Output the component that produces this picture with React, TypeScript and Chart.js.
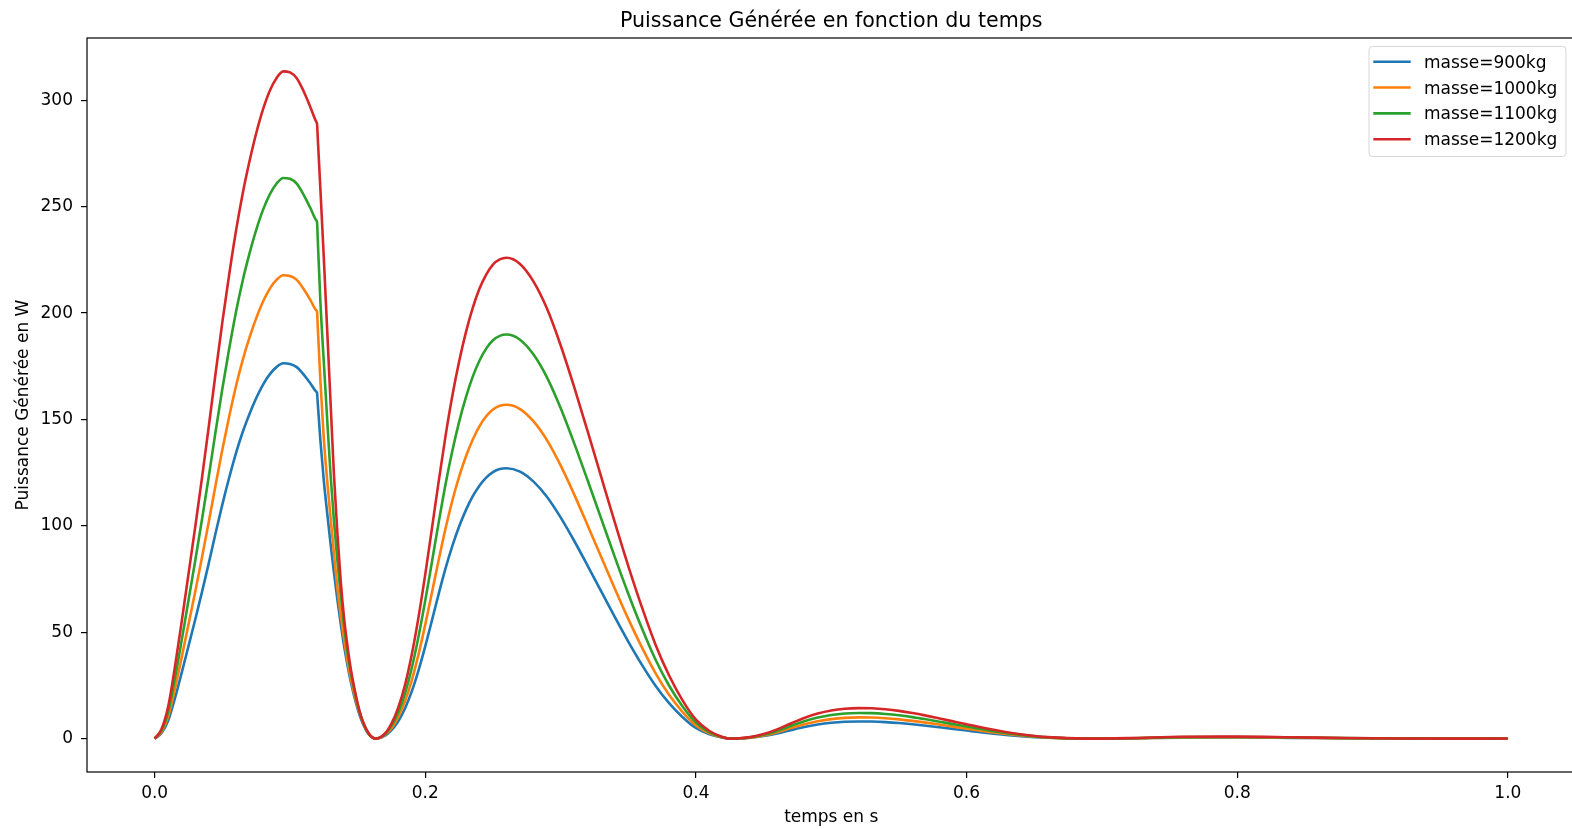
import { useEffect, useRef } from "react";
import { Chart, registerables } from "chart.js";

Chart.register(...registerables);

const times = [
  0, 0.005, 0.01, 0.015, 0.02, 0.025, 0.03, 0.035, 0.04, 0.045, 0.05, 0.055, 0.06, 0.065, 0.07, 0.075, 0.08, 0.085, 0.09, 0.095, 0.1, 0.105, 0.11, 0.115, 0.1195, 0.12,
  0.1205, 0.1225, 0.125, 0.1275, 0.13, 0.1325, 0.135, 0.1375, 0.14, 0.1425, 0.145, 0.1475, 0.15, 0.1525, 0.155, 0.1575, 0.16, 0.1632,
  0.17, 0.175, 0.18, 0.185, 0.19, 0.195, 0.2, 0.205, 0.21, 0.215, 0.22, 0.225, 0.23, 0.235, 0.24, 0.245, 0.25, 0.255, 0.26,
  0.27, 0.28, 0.29, 0.3, 0.31, 0.32, 0.33, 0.34, 0.35, 0.36, 0.37, 0.38, 0.39, 0.4, 0.41, 0.42, 0.4254,
  0.43, 0.44, 0.45, 0.46, 0.47, 0.48, 0.49, 0.5, 0.51, 0.52, 0.53, 0.54, 0.55, 0.56, 0.57, 0.58, 0.59, 0.6, 0.62, 0.64, 0.66, 0.688,
  0.72, 0.76, 0.8, 0.84, 0.88, 0.92, 0.96, 1.0,
];

const masse900 = [
  0, 2.5, 8.5, 19, 31, 43.5, 56, 69, 82.5, 96.5, 110, 122.5, 134, 144, 152.5, 160, 166.3, 171.2, 174.6, 176.4, 176.1, 174.6, 171.2, 167, 163.0, 162.5,
  158, 140, 121.3, 106, 91.5, 78, 65.5, 54, 43.5, 34.5, 26.5, 19.8, 14, 9.2, 5.5, 2.7, 0.9, 0,
  1.3, 4.0, 8.2, 14.2, 22.2, 32.1, 43.5, 55.8, 68.3, 80.1, 90.6, 99.7, 107.4, 113.8, 118.9, 122.7, 125.3, 126.7, 127.1,
  125.5, 120.8, 113.6, 104.0, 93.0, 81.2, 69.2, 57.2, 45.6, 34.8, 25.0, 16.8, 10.2, 5.0, 2.0, 0.4, 0,
  0.04, 0.4, 1.2, 2.44, 4.0, 5.48, 6.62, 7.43, 7.91, 8.08, 8.02, 7.76, 7.34, 6.76, 6.08, 5.34, 4.57, 3.81, 2.37, 1.18, 0.39, 0,
  0.14, 0.49, 0.53, 0.37, 0.17, 0.04, 0.01, 0.02,
];

const masse1000 = [
  0, 3.1, 10.5, 23.5, 38.3, 53.7, 69.1, 85.2, 101.9, 119.1, 135.8, 151.2, 165.4, 177.8, 188.3, 197.5, 205.3, 211.4, 215.6, 217.8, 217.4, 215.6, 211.4, 206.2, 201.2, 200.6,
  194.1, 168, 141, 121.3, 104, 87, 71, 58, 46.5, 36.5, 28, 21, 15, 10, 6, 3, 1, 0,
  1.6, 4.9, 10.1, 17.5, 27.4, 39.6, 53.7, 68.9, 84.3, 98.9, 111.9, 123.1, 132.6, 140.5, 146.8, 151.5, 154.7, 156.4, 156.9,
  154.9, 149.1, 140.2, 128.4, 114.8, 100.2, 85.4, 70.6, 56.3, 43.0, 30.9, 20.7, 12.6, 6.2, 2.5, 0.5, 0,
  0.05, 0.49, 1.48, 3.01, 4.94, 6.77, 8.17, 9.17, 9.77, 9.98, 9.9, 9.58, 9.06, 8.35, 7.51, 6.59, 5.64, 4.7, 2.93, 1.46, 0.48, 0,
  0.17, 0.6, 0.65, 0.46, 0.21, 0.05, 0.01, 0.02,
];

const masse1100 = [
  0, 3.7, 12.7, 28.4, 46.3, 65.0, 83.7, 103.1, 123.2, 144.2, 164.3, 183.0, 200.2, 215.1, 227.8, 239.0, 248.4, 255.7, 260.8, 263.5, 263.1, 260.8, 255.7, 249.5, 243.5, 242.7,
  235.2, 205, 177, 150, 124, 102.5, 84, 67.5, 53, 40.5, 31, 23, 16, 10.5, 6.2, 3, 1, 0,
  1.9, 6.0, 12.2, 21.2, 33.2, 48.0, 65.0, 83.4, 102.0, 119.7, 135.3, 148.9, 160.4, 170.0, 177.6, 183.3, 187.2, 189.3, 189.9,
  187.5, 180.5, 169.7, 155.4, 138.9, 121.3, 103.4, 85.4, 68.1, 52.0, 37.3, 25.1, 15.2, 7.5, 3.0, 0.6, 0,
  0.06, 0.6, 1.79, 3.64, 5.98, 8.19, 9.89, 11.1, 11.82, 12.07, 11.98, 11.59, 10.96, 10.1, 9.08, 7.98, 6.83, 5.69, 3.54, 1.76, 0.58, 0,
  0.21, 0.73, 0.79, 0.55, 0.25, 0.06, 0.02, 0.03,
];

const masse1200 = [
  0, 4.4, 15.1, 33.8, 55.1, 77.3, 99.6, 122.7, 146.7, 171.6, 195.6, 217.8, 238.2, 256.0, 271.1, 284.4, 295.6, 304.4, 310.4, 313.6, 313.1, 310.4, 304.4, 296.9, 289.8, 288.9,
  282.7, 258, 226, 192, 158, 124, 97, 74, 56.5, 43.5, 32.5, 24, 16.5, 10.5, 6.3, 3.1, 1.0, 0,
  2.3, 7.1, 14.6, 25.2, 39.5, 57.1, 77.3, 99.2, 121.4, 142.4, 161.1, 177.2, 190.9, 202.3, 211.4, 218.1, 222.8, 225.2, 226.0,
  223.1, 214.8, 202.0, 184.9, 165.3, 144.4, 123.0, 101.7, 81.1, 61.9, 44.4, 29.9, 18.1, 8.9, 3.6, 0.7, 0,
  0.07, 0.71, 2.13, 4.34, 7.11, 9.74, 11.77, 13.21, 14.06, 14.36, 14.26, 13.8, 13.05, 12.02, 10.81, 9.49, 8.12, 6.77, 4.21, 2.1, 0.69, 0,
  0.25, 0.87, 0.94, 0.66, 0.3, 0.07, 0.02, 0.04,
];

const seriesValues = [masse900, masse1000, masse1100, masse1200];
const seriesLabels = ["masse=900kg", "masse=1000kg", "masse=1100kg", "masse=1200kg"];
const seriesColors = ["#1f77b4", "#ff7f0e", "#2ca02c", "#d62728"];
const xTicks = [0, 0.2, 0.4, 0.6, 0.8, 1.0];
const yTicks = [0, 50, 100, 150, 200, 250, 300];
const titleText = "Puissance Générée en fonction du temps";
const xLabelText = "temps en s";
const yLabelText = "Puissance Générée en W";

const FONT = '"DejaVu Sans", "Liberation Sans", sans-serif';
const W = 1580;
const H = 829;

export default function App() {
  const ref = useRef<HTMLCanvasElement | null>(null);

  useEffect(() => {
    document.body.style.margin = "0";
    document.body.style.overflow = "hidden";
    const canvas = ref.current;
    if (!canvas) return;

    const tMin = Math.min(...times);
    const tMax = Math.max(...times);
    const tPad = (tMax - tMin) * 0.05;
    const all = seriesValues.flat();
    const vMin = Math.min(...all);
    const vMax = Math.max(...all);
    const vPad = (vMax - vMin) * 0.05;

    const decor = {
      id: "decor",
      afterDraw(chart: any) {
        const { ctx, chartArea: a } = chart;
        ctx.save();
        ctx.strokeStyle = "#000";
        ctx.lineWidth = 1.2;
        ctx.strokeRect(a.left, a.top, a.right - a.left, a.bottom - a.top);

        ctx.fillStyle = "#000";
        ctx.textAlign = "center";
        ctx.textBaseline = "alphabetic";
        ctx.font = `20.6px ${FONT}`;
        ctx.fillText(titleText, (a.left + a.right) / 2, 27);

        ctx.font = `17px ${FONT}`;
        ctx.fillText(xLabelText, (a.left + a.right) / 2, 822);

        ctx.save();
        ctx.translate(28, (a.top + a.bottom) / 2);
        ctx.rotate(-Math.PI / 2);
        ctx.fillText(yLabelText, 0, 0);
        ctx.restore();

        // legend
        const bx = 1369, by = 46.5, bw = 197, bh = 110, r = 3.4;
        ctx.beginPath();
        ctx.moveTo(bx + r, by);
        ctx.lineTo(bx + bw - r, by);
        ctx.arcTo(bx + bw, by, bx + bw, by + r, r);
        ctx.lineTo(bx + bw, by + bh - r);
        ctx.arcTo(bx + bw, by + bh, bx + bw - r, by + bh, r);
        ctx.lineTo(bx + r, by + bh);
        ctx.arcTo(bx, by + bh, bx, by + bh - r, r);
        ctx.lineTo(bx, by + r);
        ctx.arcTo(bx, by, bx + r, by, r);
        ctx.closePath();
        ctx.fillStyle = "rgba(255,255,255,0.8)";
        ctx.fill();
        ctx.strokeStyle = "rgba(204,204,204,0.8)";
        ctx.lineWidth = 1;
        ctx.stroke();

        ctx.textAlign = "left";
        ctx.font = `17px ${FONT}`;
        seriesLabels.forEach((lab, i) => {
          const ly = 61.7 + i * 25.85;
          ctx.beginPath();
          ctx.strokeStyle = seriesColors[i];
          ctx.lineWidth = 2.6;
          ctx.lineCap = "square";
          ctx.moveTo(1374.6, ly);
          ctx.lineTo(1409.4, ly);
          ctx.stroke();
          ctx.fillStyle = "#000";
          ctx.fillText(lab, 1424, ly + 6);
        });
        ctx.restore();
      },
    };

    const chart = new Chart(canvas, {
      type: "line",
      data: {
        datasets: seriesValues.map((vals, i) => ({
          label: seriesLabels[i],
          data: times.map((t, j) => ({ x: t, y: vals[j] })),
          borderColor: seriesColors[i],
          backgroundColor: seriesColors[i],
          borderWidth: 2.6,
          pointRadius: 0,
          fill: false,
          cubicInterpolationMode: "monotone" as const,
          borderJoinStyle: "round" as const,
          order: seriesValues.length - i,
        })),
      },
      options: {
        animation: false,
        responsive: false,
        devicePixelRatio: 1,
        layout: { padding: { top: 38, right: 4.5, bottom: 0, left: 0 } },
        plugins: {
          legend: { display: false },
          tooltip: { enabled: false },
          title: { display: false },
        },
        scales: {
          x: {
            type: "linear",
            min: tMin - tPad,
            max: tMax + tPad,
            afterBuildTicks: (s: any) => {
              s.ticks = xTicks.map((v) => ({ value: v }));
            },
            afterFit: (s: any) => {
              s.height = 57;
            },
            ticks: {
              color: "#000",
              font: { family: FONT, size: 17 },
              padding: 5,
              maxRotation: 0,
              autoSkip: false,
              callback: (v: any) => Number(v).toFixed(1),
            },
            grid: {
              display: true,
              drawOnChartArea: false,
              drawTicks: true,
              tickLength: 6,
              color: "#000",
              lineWidth: 1.2,
            },
            border: { display: false },
          },
          y: {
            type: "linear",
            min: vMin - vPad,
            max: vMax + vPad,
            afterBuildTicks: (s: any) => {
              s.ticks = yTicks.map((v) => ({ value: v }));
            },
            afterFit: (s: any) => {
              s.width = 87;
            },
            ticks: {
              color: "#000",
              font: { family: FONT, size: 17 },
              padding: 8,
              autoSkip: false,
              callback: (v: any) => String(Math.round(Number(v))),
            },
            grid: {
              display: true,
              drawOnChartArea: false,
              drawTicks: true,
              tickLength: 6,
              color: "#000",
              lineWidth: 1.2,
            },
            border: { display: false },
          },
        },
      },
      plugins: [decor],
    });

    return () => chart.destroy();
  }, []);

  return (
    <div
      style={{
        position: "fixed",
        left: 0,
        top: 0,
        width: 1572,
        height: 829,
        overflow: "hidden",
        background: "#fff",
      }}
    >
      <canvas ref={ref} width={W} height={H} style={{ display: "block", width: W, height: H }} />
    </div>
  );
}
